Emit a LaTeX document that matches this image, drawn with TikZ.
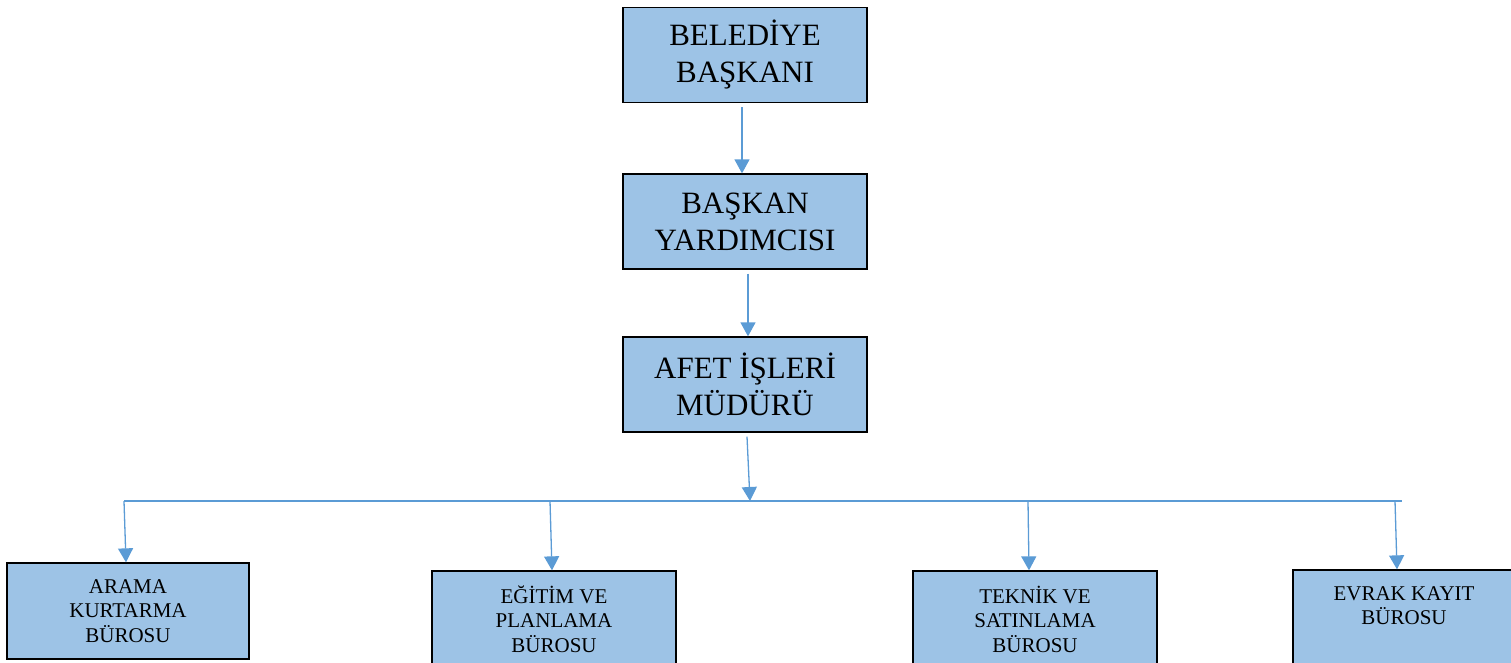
\documentclass[tikz,border=0pt]{standalone}
\usepackage{fontspec}
\setmainfont{Liberation Serif}
\usetikzlibrary{arrows.meta}
\definecolor{kutumavi}{HTML}{9DC3E6}
\definecolor{okmavi}{HTML}{5B9BD5}

\begin{document}
\begin{tikzpicture}[x=1pt,y=-1pt,
    ustkutu/.style={draw=black, line width=1.3pt, fill=kutumavi, minimum width=244pt, minimum height=95pt,
        inner sep=0pt, align=center, font=\fontsize{31}{37}\selectfont},
    altkutu/.style={draw=black, line width=1.3pt, fill=kutumavi, minimum height=96pt,
        inner sep=0pt, align=center, font=\fontsize{21}{24.5}\selectfont},
    cizgi/.style={draw=okmavi, line width=1.3pt},
    okcizgi/.style={cizgi, -{Triangle[length=14pt,width=15pt]}}]
            \useasboundingbox (0,0) rectangle (1511,662);
            % ust kademe
            \node[ustkutu] (baskan) at (745,55) {BELEDİYE\\BAŞKANI};
            \node[ustkutu] (yardimci) at (745,221.5) {BAŞKAN\\YARDIMCISI};
            \node[ustkutu] (mudur) at (745,384.5) {AFET İŞLERİ\\MÜDÜRÜ};
            % burolar
            \node[altkutu, minimum width=242pt] (arama) at (128,611) {ARAMA\\KURTARMA\\BÜROSU};
            \node[altkutu, minimum width=244pt] (egitim) at (554,619) {EĞİTİM VE\\PLANLAMA\\BÜROSU};
            \node[altkutu, minimum width=244pt] (teknik) at (1035,619) {TEKNİK VE\\SATINLAMA\\BÜROSU};
            \node[altkutu, minimum width=222pt] (evrak) at (1404,618) {EVRAK KAYIT\\BÜROSU\\~};
            % yatay hat
            \coordinate (hatsol) at (124,501);
            \coordinate (hatorta) at (750,501);
            \coordinate (hategitim) at (550,501);
            \coordinate (hatteknik) at (1028,501);
            \coordinate (hatevrak) at (1395,501);
            \coordinate (hatsag) at (1402,501);
            \draw[cizgi] (hatsol) -- (hatsag);
            % oklar
            \draw[okcizgi] ([xshift=-3pt,yshift=-4pt]baskan.south) -- ([xshift=-3pt]yardimci.north);
            \draw[okcizgi] ([xshift=3pt,yshift=-4pt]yardimci.south) -- ([xshift=3pt]mudur.north);
            \draw[okcizgi] ([xshift=2pt,yshift=-4pt]mudur.south) -- (hatorta);
            \draw[okcizgi] (hatsol) -- ([xshift=-2pt]arama.north);
            \draw[okcizgi] (hategitim) -- ([xshift=-2pt]egitim.north);
            \draw[okcizgi] (hatteknik) -- ([xshift=-6pt]teknik.north);
            \draw[okcizgi] (hatevrak) -- ([xshift=-7pt]evrak.north);
\end{tikzpicture}
\end{document}
